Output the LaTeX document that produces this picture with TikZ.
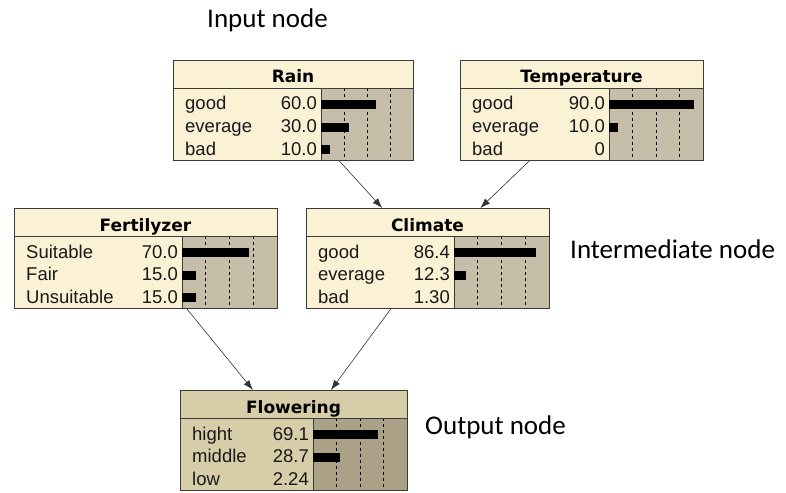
\documentclass[tikz,border=0pt]{standalone}
\usepackage{fontspec}
\usepackage{tikz}
\usetikzlibrary{arrows.meta}

\newfontfamily\netfont{Liberation Sans}
\newfontfamily\headfont{DejaVu Sans}
\newfontfamily\notefont{Carlito}

\definecolor{cream}{HTML}{FBF1D4}
\definecolor{chartgray}{HTML}{C7BEA9}
\definecolor{outbody}{HTML}{D7CDA9}
\definecolor{outchart}{HTML}{AAA187}
\definecolor{edge}{HTML}{3A3A3A}

% #1 name, #2 title, #3 left, #4 top, #5 right, #6 chart x, #7 rows, #8 body, #9 chart
\newcommand{\netbox}[9]{%
  \fill[#8] (#3,#4) rectangle (#5,#4+100);
  \fill[#9] (#6,#4+28) rectangle (#5,#4+100);
  \foreach \k in {1,2,3}
    \draw[gridline] ({#6+\k/4*(#5-#6)},#4+28) -- ({#6+\k/4*(#5-#6)},#4+100);
  \draw[edge, line width=0.7pt] (#3,#4+28) -- (#5,#4+28);
  \draw[edge, line width=0.7pt] (#6,#4+28) -- (#6,#4+100);
  \node[titletxt, anchor=base] (#1-t) at ({(#3+#5)/2},#4+23) {#2};
  \foreach \lab/\val/\pct [count=\i] in {#7} {
    \pgfmathsetmacro{\yb}{#4+28+22+22.5*(\i-1)}
    \node[rowtxt, anchor=base west] (#1-l\i) at (#3+12,\yb) {\lab};
    \node[rowtxt, anchor=base east] (#1-v\i) at (#6-4,\yb) {\val};
    \fill ({#6},\yb-10) rectangle ({#6+\pct/100*(#5-#6)},\yb-1);
  }
  \node[netbox, minimum width={(#5-#3)*1pt}, anchor=north west] (#1) at (#3,#4) {};
}

\begin{document}
\begin{tikzpicture}[x=1pt, y=-1pt,
    netbox/.style={draw=edge, line width=0.8pt, minimum height=100pt, inner sep=0pt},
    titletxt/.style={inner sep=0pt, font=\headfont\bfseries\fontsize{17}{20}\selectfont},
    rowtxt/.style={inner sep=0pt, text=black!90, font=\netfont\fontsize{18.5}{22}\selectfont},
    gridline/.style={black, line width=0.8pt, dash pattern=on 3pt off 3pt},
    note/.style={inner sep=0pt, anchor=base west, font=\notefont\fontsize{27}{32}\selectfont},
    link/.style={draw=black!80, line width=0.6pt, -{Latex[length=10pt, width=7pt]}}]
  \useasboundingbox (0,0) rectangle (786,492);

  \netbox{rain}{Rain}{173}{60}{413}{321}
    {good/60.0/60, everage/30.0/30, bad/10.0/10}{cream}{chartgray}
  \netbox{temp}{Temperature}{460}{60}{703}{609}
    {good/90.0/90, everage/10.0/10, bad/0/0}{cream}{chartgray}
  \netbox{fert}{Fertilyzer}{14}{208}{277}{182}
    {Suitable/70.0/70, Fair/15.0/15, Unsuitable/15.0/15}{cream}{chartgray}
  \netbox{climate}{Climate}{306}{208}{549}{454}
    {good/86.4/86.4, everage/12.3/12.3, bad/1.30/0}{cream}{chartgray}
  \netbox{flower}{Flowering}{180}{390}{407}{313}
    {hight/69.1/69.1, middle/28.7/28.7, low/2.24/0}{outbody}{outchart}

  \draw[link] (rain) -- (climate);
  \draw[link] (temp) -- (climate);
  \draw[link] (fert) -- (flower);
  \draw[link] (climate) -- (flower);

  \node[note] (input) at (207,28) {Input node};
  \node[note] (inter) at (570,258) {Intermediate node};
  \node[note] (output) at (425,434) {Output node};
\end{tikzpicture}
\end{document}
